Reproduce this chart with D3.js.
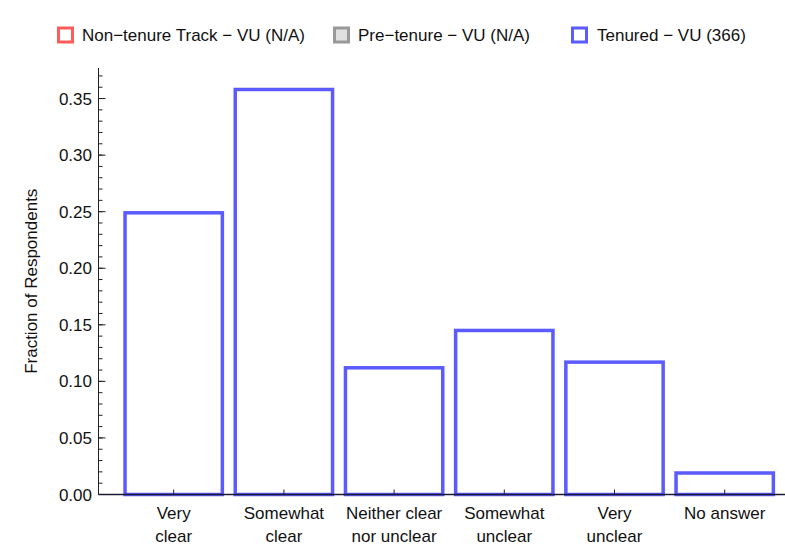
<!DOCTYPE html>
<html><head><meta charset="utf-8">
<script src="https://cdn.jsdelivr.net/npm/d3@7"></script>
<style>body{margin:0;background:#fff}svg{display:block}text{font-family:"Liberation Sans",Arial,sans-serif;fill:#111}</style>
</head><body><svg id="c" width="785" height="555"></svg>
<script>
const categories = [["Very","clear"],["Somewhat","clear"],["Neither clear","nor unclear"],["Somewhat","unclear"],["Very","unclear"],["No answer"]];
const tenuredValues = [0.249, 0.358, 0.112, 0.145, 0.117, 0.019];
const yTicks = [0, 0.05, 0.10, 0.15, 0.20, 0.25, 0.30, 0.35];
const legendLabels = ["Non\u2212tenure Track \u2212 VU (N/A)", "Pre\u2212tenure \u2212 VU (N/A)", "Tenured \u2212 VU (366)"];

const svg = d3.select("#c");
const FS = 17;
const blue = "#5b5bff";
const keys = categories.map((c,i)=>i);
const x = d3.scaleBand().domain(keys).range([118.6, 779.8]).paddingInner(0.117).paddingOuter(0.0585);
const y = d3.scaleLinear().domain([0, 0.377]).range([494.5, 68]);
const axisX = 98.5;

// bars
svg.append("g").selectAll("rect").data(tenuredValues).join("rect")
  .attr("x", (d,i)=>x(i)).attr("width", x.bandwidth())
  .attr("y", d=>y(d)).attr("height", d=>y(0)-y(d))
  .attr("fill","#fff").attr("stroke",blue).attr("stroke-width",3.5);

// y axis
const ya = svg.append("g").attr("transform",`translate(${axisX},0)`);
ya.append("line").attr("y1",y(0)).attr("y2",y.range()[1]).attr("stroke","#222");
const minor = d3.range(0, 0.3801, 0.01).filter(v=>v<=0.377);
ya.selectAll("line.mn").data(minor).join("line").attr("class","mn")
  .attr("x1",0).attr("x2",4).attr("y1",d=>y(d)).attr("y2",d=>y(d)).attr("stroke","#222");
ya.selectAll("line.mj").data(yTicks).join("line").attr("class","mj")
  .attr("x1",0).attr("x2",7).attr("y1",d=>y(d)).attr("y2",d=>y(d)).attr("stroke","#222");
ya.selectAll("text").data(yTicks).join("text")
  .attr("x",-6.5).attr("y",d=>y(d)).attr("dy","0.36em").attr("text-anchor","end")
  .attr("font-size",FS).text(d=>d3.format(".2f")(d));
svg.append("text").attr("transform",`translate(36.5,${(y(0)+y.range()[1])/2}) rotate(-90)`)
  .attr("text-anchor","middle").attr("font-size",FS).text("Fraction of Respondents");

// x axis
const xa = svg.append("g");
xa.append("line").attr("x1",axisX).attr("x2",785).attr("y1",y(0)).attr("y2",y(0)).attr("stroke","#1a1a33").attr("stroke-width",1.5);
xa.selectAll("line.t").data(keys).join("line").attr("class","t")
  .attr("x1",d=>x(d)+x.bandwidth()/2).attr("x2",d=>x(d)+x.bandwidth()/2)
  .attr("y1",y(0)).attr("y2",y(0)-5).attr("stroke","#222");
xa.selectAll("text").data(categories).join("text")
  .attr("x",(d,i)=>x(i)+x.bandwidth()/2).attr("y",519).attr("text-anchor","middle").attr("font-size",FS)
  .each(function(d){ d3.select(this).selectAll("tspan").data(d).join("tspan")
     .attr("x",d3.select(this).attr("x")).attr("dy",(t,j)=>j?23:0).text(t=>t); });

// legend
const lg = [{x:57, stroke:"#ff5b5b", fill:"#fff", tx:82},{x:333, stroke:"#999", fill:"#e0e0e0", tx:358},{x:571, stroke:blue, fill:"#fff", tx:597}];
const L = svg.append("g");
L.selectAll("rect").data(lg).join("rect").attr("x",d=>d.x+1.5).attr("y",28).attr("width",14).attr("height",14)
  .attr("fill",d=>d.fill).attr("stroke",d=>d.stroke).attr("stroke-width",3);
L.selectAll("text").data(lg).join("text").attr("x",d=>d.tx).attr("y",35).attr("dy","0.36em").attr("font-size",FS)
  .text((d,i)=>legendLabels[i]);
</script></body></html>
